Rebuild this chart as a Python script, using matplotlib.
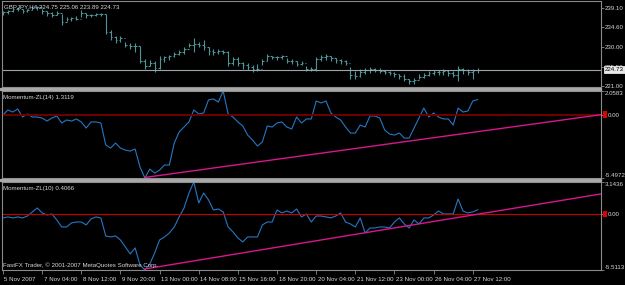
import matplotlib
matplotlib.use("Agg")
import matplotlib.pyplot as plt
import matplotlib.transforms as mtransforms
from matplotlib.patches import Rectangle

# ---------------- data ----------------
title_price = "GBPJPY,H4 224.75 225.06 223.89 224.73"
title_m14 = "Momentum-ZL(14) 1.3119"
title_m10 = "Momentum-ZL(10) 0.4066"
copyright_text = "FastFX Trader, \u00a9 2001-2007 MetaQuotes Software Corp."

opens = [237.95, 238.18, 238.41, 238.87, 238.87, 238.41, 238.64, 239.10, 239.33, 238.41,
         237.95, 237.49, 237.95, 235.89, 236.58, 236.81, 236.58, 237.95, 237.49, 237.49,
         237.72, 237.72, 233.59, 232.45, 231.76, 232.22, 230.61, 230.38, 230.38, 226.71,
         225.57, 226.25, 225.11, 227.17, 227.63, 227.86, 228.32, 228.78, 229.47, 230.61,
         230.84, 230.61, 229.92, 229.01, 228.78, 229.01, 228.78, 226.25, 227.17, 226.25,
         225.80, 225.34, 224.88, 224.88, 226.71, 227.86, 227.63, 227.63, 227.86, 226.71,
         226.71, 226.03, 226.25, 224.88, 224.88, 227.17, 227.63, 227.86, 227.40, 226.94,
         226.71, 226.25, 223.50, 223.27, 224.19, 224.65, 224.88, 224.65, 224.42, 224.19,
         223.96, 223.73, 223.27, 222.59, 222.13, 222.36, 223.04, 223.50, 223.96, 224.19,
         224.19, 224.42, 223.96, 223.50, 224.88, 224.65, 224.19, 224.75]
highs = [238.41, 238.64, 239.10, 239.33, 238.87, 238.87, 239.56, 239.56, 238.87, 238.41,
         238.18, 238.41, 237.72, 237.04, 237.04, 237.27, 238.64, 237.95, 237.72, 237.95,
         237.95, 237.72, 234.05, 232.68, 232.68, 231.30, 231.07, 231.07, 230.15, 227.17,
         226.94, 226.71, 227.86, 227.86, 228.09, 228.78, 229.24, 229.92, 231.07, 232.22,
         231.30, 231.76, 229.92, 229.47, 229.47, 229.24, 229.01, 227.63, 227.63, 226.48,
         226.25, 225.80, 226.03, 227.17, 228.32, 227.86, 227.86, 228.09, 227.40, 227.17,
         226.71, 226.71, 225.57, 225.34, 227.63, 228.09, 228.32, 227.86, 227.40, 227.17,
         226.94, 225.34, 224.42, 224.88, 225.11, 225.34, 225.11, 225.11, 224.65, 224.42,
         224.19, 223.73, 223.73, 222.59, 222.81, 223.73, 223.96, 224.42, 224.65, 224.65,
         224.88, 224.65, 224.42, 225.57, 225.11, 224.88, 224.88, 225.06]
lows = [237.49, 237.72, 238.18, 238.41, 237.95, 238.18, 238.64, 238.64, 237.72, 237.27,
        237.04, 237.49, 235.20, 236.12, 236.12, 236.35, 237.04, 236.81, 237.04, 237.27,
        237.27, 233.14, 231.76, 231.07, 231.30, 229.92, 229.47, 228.78, 226.25, 224.88,
        225.57, 224.19, 224.88, 226.48, 226.94, 227.63, 228.09, 228.32, 229.92, 228.78,
        229.92, 229.24, 228.09, 228.09, 228.32, 228.32, 225.57, 225.80, 225.57, 224.88,
        224.65, 224.19, 224.42, 225.80, 226.71, 227.17, 226.94, 227.17, 226.25, 226.03,
        225.57, 225.80, 224.42, 224.42, 224.42, 226.71, 226.94, 226.71, 226.25, 226.03,
        225.80, 222.59, 222.59, 223.04, 223.73, 223.96, 224.19, 223.96, 223.73, 223.50,
        223.04, 222.59, 222.13, 221.44, 221.44, 222.59, 222.81, 223.27, 223.50, 223.50,
        223.50, 223.27, 223.04, 222.13, 223.73, 223.50, 222.59, 223.89]
closes = [238.18, 238.41, 238.87, 238.87, 238.41, 238.64, 239.10, 239.33, 238.41, 237.95,
          237.49, 237.95, 235.89, 236.58, 236.81, 236.58, 237.95, 237.49, 237.49, 237.72,
          237.72, 233.59, 232.45, 231.76, 232.22, 230.61, 230.38, 230.38, 226.71, 225.57,
          226.25, 225.11, 227.17, 227.63, 227.86, 228.32, 228.78, 229.47, 230.61, 230.84,
          230.61, 229.92, 229.01, 228.78, 229.01, 228.78, 226.25, 227.17, 226.25, 225.80,
          225.34, 224.88, 224.88, 226.71, 227.86, 227.63, 227.63, 227.86, 226.71, 226.71,
          226.03, 226.25, 224.88, 224.88, 227.17, 227.63, 227.86, 227.40, 226.94, 226.71,
          226.25, 223.50, 223.27, 224.19, 224.65, 224.88, 224.65, 224.42, 224.19, 223.96,
          223.73, 223.27, 222.59, 222.13, 222.36, 223.04, 223.50, 223.96, 224.19, 224.19,
          224.42, 223.96, 223.50, 224.88, 224.65, 224.19, 224.42, 224.73]

mom14 = [-0.03, 0.41, 0.23, 0.50, -0.20, 0.06, -0.20, -0.20, -0.29, -0.55,
         -0.29, -0.11, -0.72, -0.46, -0.55, -0.37, -0.63, -1.16, -0.63, -0.63,
         -0.72, -2.63, -2.90, -2.46, -2.90, -3.07, -3.16, -2.98, -4.55, -5.4972,
         -4.72, -5.07, -4.81, -4.37, -4.37, -2.46, -1.50, -1.07, -0.63, 0.41,
         0.06, 0.15, 1.28, 1.37, 1.10, 2.0583, 0.06, -0.20, -0.63, -0.98,
         -1.77, -2.20, -2.72, -2.37, -0.98, -1.07, -0.72, -0.63, -1.07, -1.24,
         -0.20, -0.72, -0.37, -0.37, 1.19, 1.02, 1.19, 0.15, -0.20, -0.46,
         -1.07, -1.59, -1.59, -0.90, -1.07, -0.11, -0.11, -0.29, -1.33, -1.68,
         -1.77, -1.59, -2.03, -2.03, -1.16, -0.29, 0.58, -0.20, 0.15, -0.20,
         -0.37, -0.37, -0.90, 0.58, 0.23, 0.32, 1.19, 1.3119]

mom10 = [-0.39, -0.29, -0.39, -0.29, -0.39, -0.20, 0.20, 0.59, 0.10, -0.10,
         0.00, -0.59, -1.28, -1.28, -0.88, -0.79, -0.79, -1.08, -0.49, -0.29,
         -0.39, -2.16, -2.26, -2.16, -2.56, -3.24, -3.93, -3.34, -5.01, -5.5113,
         -4.92, -3.83, -2.56, -2.26, -1.87, -1.28, -0.29, 0.59, 2.06, 3.1436,
         1.08, 2.06, 1.38, 0.39, 0.49, 0.20, -1.28, -1.77, -2.36, -2.75,
         -2.26, -2.26, -2.26, -1.08, -0.79, -0.79, 0.39, 0.10, 0.29, 0.10,
         0.49, -0.29, 0.00, -0.79, -0.20, -0.20, -0.29, -0.39, -0.20, 0.10,
         -0.79, -0.98, -1.28, -0.39, -1.87, -1.38, -1.38, -1.28, -1.28, -1.38,
         -0.79, -0.39, -0.98, -1.38, -0.59, -0.98, -0.39, -0.39, -0.10, 0.29,
         0.00, 0.00, 0.00, 1.47, 0.29, 0.10, 0.20, 0.4066]

trend14_x = [29, 122.2]
trend14_y = [-5.45, 0.0]
trend10_x = [29, 122.2]
trend10_y = [-5.41, 1.97]

price_ticks = [239.10, 234.60, 230.00, 225.50, 221.00]
price_tick_labels = ["239.10", "234.60", "230.00", "225.50", "221.00"]
price_ylim = (220.75, 240.71)
current_price = 224.73

m14_range = (-5.4972, 2.0583)
m14_labels = ["-5.4972", "0.00", "2.0583"]
m10_range = (-5.5113, 3.1436)
m10_labels = ["-5.5113", "0.00", "3.1436"]

xtick_bars = [0, 8, 16, 24, 32, 40, 48, 56, 64, 72, 80, 88, 96]
xtick_labels = ["5 Nov 2007", "7 Nov 04:00", "8 Nov 12:00", "9 Nov 20:00",
                "13 Nov 00:00", "14 Nov 08:00", "15 Nov 16:00", "18 Nov 20:00",
                "20 Nov 04:00", "21 Nov 12:00", "23 Nov 00:00", "26 Nov 04:00",
                "27 Nov 12:00"]

# ---------------- style ----------------
W, H = 625, 285
BG = "#000000"
FRAME = "#8a8a8a"
TXT = "#d8d8d8"
BARC = "#4f9499"
LINEC = "#2577c4"
TRENDC = "#d8168e"
FS = 4.4
plt.rcParams["font.family"] = ["Liberation Sans", "DejaVu Sans"]

fig = plt.figure(figsize=(W / 100, H / 100), dpi=100, facecolor=BG)


def rect(l, t, r, b):
    return [l / W, 1 - b / H, (r - l) / W, (b - t) / H]


ax1 = fig.add_axes(rect(2, 1, 601, 87))
ax2 = fig.add_axes(rect(2, 91, 601, 178))
ax3 = fig.add_axes(rect(2, 182, 601, 270))

xlim = (-0.2, 122.2)
for ax in (ax1, ax2, ax3):
    ax.set_facecolor(BG)
    ax.set_xlim(*xlim)
    for s in ax.spines.values():
        s.set_color(FRAME)
        s.set_linewidth(0.8)
    ax.yaxis.tick_right()
    ax.tick_params(axis="y", direction="out", length=2, width=0.6, color=FRAME,
                   labelcolor=TXT, labelsize=FS, pad=1.0)
    ax.tick_params(axis="x", bottom=False, labelbottom=False)

# separators
for y0 in (87.5, 178.5):
    fig.patches.append(Rectangle((0, 1 - (y0 + 2.2) / H), 601 / W, 2.2 / H,
                                 transform=fig.transFigure, color="#a8a8a8", zorder=0))

# ---------------- price panel ----------------
n = len(closes)
xs = list(range(n))
ax1.vlines(xs, lows, highs, color=BARC, lw=0.8)
ax1.hlines(opens, [x - 0.35 for x in xs], xs, color=BARC, lw=0.8)
ax1.hlines(closes, xs, [x + 0.35 for x in xs], color=BARC, lw=0.8)
ax1.set_ylim(*price_ylim)
ax1.set_yticks(price_ticks)
ax1.set_yticklabels(price_tick_labels)
ax1.axhline(current_price, color="#9aa4aa", lw=0.8)
ax1.text(1.006, current_price, "224.73", transform=ax1.get_yaxis_transform(),
         color="#000000", fontsize=FS, va="center", ha="left", zorder=10,
         bbox=dict(boxstyle="square,pad=0.15", fc="#e8e8e8", ec="#ffffff", lw=0.5))
ax1.text(0.004, 0.965, title_price, transform=ax1.get_xaxis_transform() if False else ax1.transAxes,
         color=TXT, fontsize=FS, va="top", ha="left")

# ---------------- momentum 14 ----------------
ax2.plot(xs, mom14, color=LINEC, lw=0.8)
ax2.axhline(0, color="#6e0000", lw=1.4)
ax2.plot(trend14_x, trend14_y, color=TRENDC, lw=1.0, clip_on=False)
ax2.set_ylim(*m14_range)
ax2.set_yticks([m14_range[0], 0, m14_range[1]])
ax2.set_yticklabels(m14_labels)
ax2.text(0.002, 0.95, title_m14, transform=ax2.transAxes, color=TXT,
         fontsize=FS, va="top", ha="left")

# ---------------- momentum 10 ----------------
ax3.plot(xs, mom10, color=LINEC, lw=0.8)
ax3.axhline(0, color="#c80000", lw=0.8)
ax3.plot(trend10_x, trend10_y, color=TRENDC, lw=1.0, clip_on=False)
ax3.set_ylim(*m10_range)
ax3.set_yticks([m10_range[0], 0, m10_range[1]])
ax3.set_yticklabels(m10_labels)
ax3.text(0.002, 0.95, title_m10, transform=ax3.transAxes, color=TXT,
         fontsize=FS, va="top", ha="left")
ax3.text(0.002, 0.02, copyright_text, transform=ax3.transAxes, color=TXT,
         fontsize=FS, va="bottom", ha="left")

zero_off = mtransforms.ScaledTranslation(2.5 / 100, 0, fig.dpi_scale_trans)
for ax in (ax2, ax3):
    labs = ax.get_yticklabels()
    labs[0].set_va("bottom")
    labs[-1].set_va("top")
    labs[1].set_transform(labs[1].get_transform() + zero_off)
    # small red level marker just right of the frame
    ax.add_patch(Rectangle((1.003, -0.32), 0.0065, 0.64,
                           transform=mtransforms.blended_transform_factory(ax.transAxes, ax.transData),
                           clip_on=False, facecolor="#e00000", edgecolor="none",
                           antialiased=False, zorder=5))

# x axis
ax3.tick_params(axis="x", bottom=True, labelbottom=True, direction="out", length=3,
                width=0.6, color=FRAME, labelcolor=TXT, labelsize=FS, pad=2)
ax3.set_xticks(xtick_bars)
ax3.set_xticklabels(xtick_labels)
off = mtransforms.ScaledTranslation(1.5 / 100, 0, fig.dpi_scale_trans)
for lab in ax3.get_xticklabels():
    lab.set_ha("left")
    lab.set_transform(lab.get_transform() + off)

fig.savefig("out.png", dpi=100, facecolor=BG)
